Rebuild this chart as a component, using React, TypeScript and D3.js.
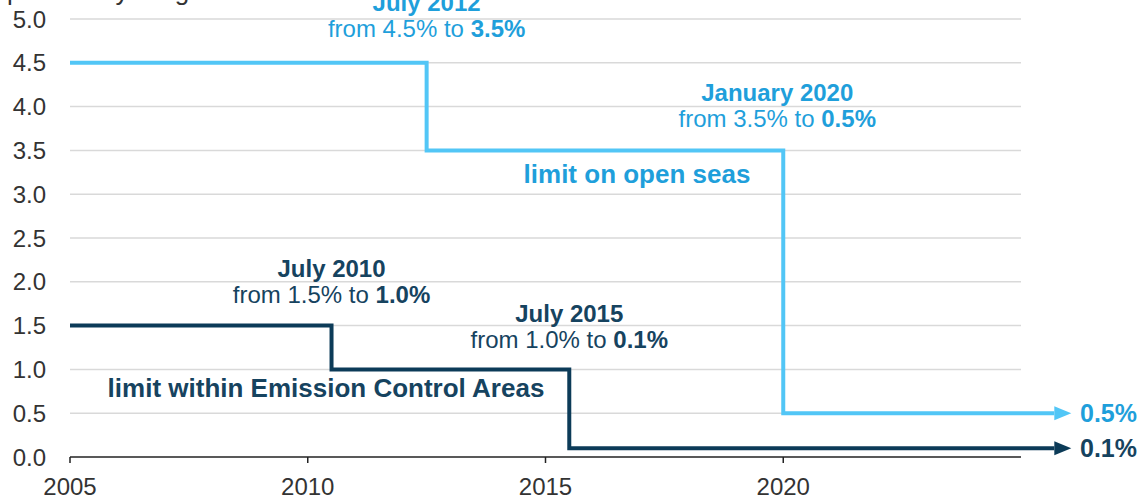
import React from "react";
import * as d3 from "d3";

const width = 1141;
const height = 500;
const margin = { top: 19, right: 120, bottom: 43, left: 70 };

// sulphur limits, percent by weight
const openSeasYears = [2005, 2012.5, 2020, 2025.7];
const openSeasLimits = [4.5, 3.5, 0.5, 0.5];
const ecaYears = [2005, 2010.5, 2015.5, 2025.7];
const ecaLimits = [1.5, 1.0, 0.1, 0.1];

const yTicks = [0, 0.5, 1, 1.5, 2, 2.5, 3, 3.5, 4, 4.5, 5];
const xTicks = [2005, 2010, 2015, 2020];

const lightBlue = "#52c6f6";
const lightBlueText = "#1f9fdb";
const darkBlue = "#0c3b58";
const darkText = "#16435f";
const font = "'Liberation Sans', Arial, sans-serif";

const App = () => {
  const x = d3
    .scaleLinear()
    .domain([2005, 2025])
    .range([margin.left, 1021]);
  const y = d3
    .scaleLinear()
    .domain([0, 5])
    .range([height - margin.bottom, margin.top]);

  const line = d3
    .line<[number, number]>()
    .x(d => x(d[0]))
    .y(d => y(d[1]))
    .curve(d3.curveStepAfter);

  const openSeas = openSeasYears.map((yr, i) => [yr, openSeasLimits[i]] as [number, number]);
  const eca = ecaYears.map((yr, i) => [yr, ecaLimits[i]] as [number, number]);

  const [x0, x1] = x.range();

  // two-line annotation: bold title, then "from a to b" with b bold
  const note = (cx: number, by: number, title: string, from: string, to: string, color: string) => (
    <g fontFamily={font} fontSize={24} fill={color} textAnchor="middle">
      <text x={cx} y={by} fontWeight="bold">{title}</text>
      <text x={cx} y={by + 26}>
        {`from ${from} to `}
        <tspan fontWeight="bold">{to}</tspan>
      </text>
    </g>
  );

  return (
    <svg width={width} height={height} style={{ position: "absolute", left: 0, top: 0 }}>
      <defs>
        <marker id="arrowLight" markerUnits="userSpaceOnUse" markerWidth={18} markerHeight={16}
          refX={0} refY={7} orient="auto" viewBox="0 0 18 14">
          <path d="M0,0 L17,7 L0,14 z" fill={lightBlue} />
        </marker>
        <marker id="arrowDark" markerUnits="userSpaceOnUse" markerWidth={18} markerHeight={16}
          refX={0} refY={7} orient="auto" viewBox="0 0 18 14">
          <path d="M0,0 L17,7 L0,14 z" fill={darkBlue} />
        </marker>
      </defs>

      <text x={7} y={0} fontFamily={font} fontSize={26} fill="#333">percent by weight</text>

      {yTicks.map(t => (
        <g key={t}>
          {t > 0 && (
            <line x1={x0} x2={x1} y1={y(t)} y2={y(t)} stroke="#d9d9d9" strokeWidth={1.5} />
          )}
          <text x={46} y={y(t)} dy="0.36em" textAnchor="end" fontFamily={font} fontSize={24} fill="#333">
            {t.toFixed(1)}
          </text>
        </g>
      ))}

      <line x1={x0} x2={x1} y1={y(0)} y2={y(0)} stroke="#222" strokeWidth={1.5} />
      {xTicks.map(t => (
        <g key={t}>
          <line x1={x(t)} x2={x(t)} y1={y(0)} y2={y(0) + 6} stroke="#222" strokeWidth={1.5} />
          <text x={x(t)} y={495} textAnchor="middle" fontFamily={font} fontSize={24} fill="#333">
            {t}
          </text>
        </g>
      ))}

      <path d={line(openSeas) || ""} fill="none" stroke={lightBlue} strokeWidth={4} markerEnd="url(#arrowLight)" />
      <path d={line(eca) || ""} fill="none" stroke={darkBlue} strokeWidth={4} markerEnd="url(#arrowDark)" />

      {note(x(2012.5), 11, "July 2012", "4.5%", "3.5%", lightBlueText)}
      {note(x(2020) - 6, 101, "January 2020", "3.5%", "0.5%", lightBlueText)}
      {note(x(2010.5), 277, "July 2010", "1.5%", "1.0%", darkText)}
      {note(x(2015.5), 322, "July 2015", "1.0%", "0.1%", darkText)}

      <text x={637} y={183} textAnchor="middle" fontFamily={font} fontSize={26} fontWeight="bold" fill={lightBlueText}>
        limit on open seas
      </text>
      <text x={326} y={397} textAnchor="middle" fontFamily={font} fontSize={26} fontWeight="bold" fill={darkText}>
        limit within Emission Control Areas
      </text>

      <text x={1080} y={y(0.5)} dy="0.36em" fontFamily={font} fontSize={25} fontWeight="bold" fill={lightBlueText}>
        0.5%
      </text>
      <text x={1080} y={y(0.1)} dy="0.36em" fontFamily={font} fontSize={25} fontWeight="bold" fill={darkText}>
        0.1%
      </text>
    </svg>
  );
};

export default App;
